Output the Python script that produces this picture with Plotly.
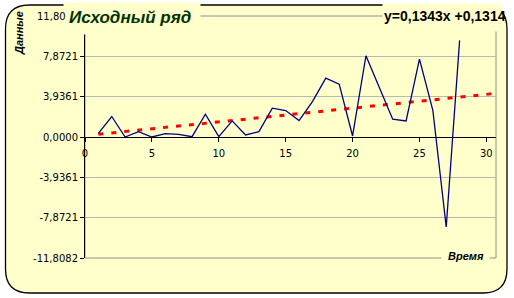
import plotly.graph_objects as go

# ---- data ----
time_idx = list(range(1, 29))
series_vals = [0.36, 2.00, 0.00, 0.52, 0.00, 0.33, 0.26, 0.03, 2.22, 0.03,
               1.57, 0.20, 0.52, 2.81, 2.58, 1.60, 3.46, 5.75, 5.16, 0.10,
               7.93, 4.77, 1.73, 1.57, 7.60, 2.60, -8.78, 9.43]
trend_slope = 0.1343
trend_intercept = 0.1314
trend_x = [1, 30.5]
y_tickvals = [11.8082, 7.8721, 3.9361, 0.0, -3.9361, -7.8721, -11.8082]
y_ticktext = ["", "7,8721", "3,9361", "0,0000", "-3,9361", "-7,8721", "-11,8082"]
top_tick_visible = "11,80"
x_tickvals = [0, 5, 10, 15, 20, 25, 30]
title_text = "Исходный ряд"
eq_text = "y=0,1343x +0,1314"
x_title = "Время"
y_title = "Данные"

# ---- layout geometry (pixels) ----
W, H = 514, 298
ML, MR, MT, MB = 85, 18, 16, 40
PW, PH = W - ML - MR, H - MT - MB
CARD = "#FFFFCC"


def px(x):
    return (x - ML) / PW


def py(y):
    return (H - MB - y) / PH


trend_y = [trend_slope * x + trend_intercept for x in trend_x]

fig = go.Figure()
fig.add_trace(go.Scatter(x=trend_x, y=trend_y, mode="lines",
                         line=dict(color="#FF0000", width=3, dash="5px,8px"),
                         hoverinfo="skip", showlegend=False))
fig.add_trace(go.Scatter(x=time_idx, y=series_vals, mode="lines",
                         line=dict(color="#000080", width=1.3),
                         showlegend=False))

# rounded card
l, r, t, b, rad = 5.5, 507, 5, 293, 24
path = (f"M {px(l+rad)} {py(t)} L {px(r-rad)} {py(t)} Q {px(r)} {py(t)} {px(r)} {py(t+rad)} "
        f"L {px(r)} {py(b-rad)} Q {px(r)} {py(b)} {px(r-rad)} {py(b)} "
        f"L {px(l+rad)} {py(b)} Q {px(l)} {py(b)} {px(l)} {py(b-rad)} "
        f"L {px(l)} {py(t+rad)} Q {px(l)} {py(t)} {px(l+rad)} {py(t)} Z")
shapes = [
    dict(type="path", path=path, xref="paper", yref="paper", fillcolor=CARD,
         line=dict(color="black", width=1.3), layer="below"),
    dict(type="rect", xref="paper", yref="paper", x0=0, x1=1, y0=0, y1=1,
         line=dict(color="#909090", width=1), layer="below"),
]

annotations = [
    # cover boxes
    dict(xref="paper", yref="paper", x=px(63), y=py(2), xanchor="left", yanchor="top",
         text=" ", showarrow=False, bgcolor=CARD, width=136, height=31, borderpad=0),
    dict(xref="paper", yref="paper", x=px(382), y=py(3), xanchor="left", yanchor="top",
         text=" ", showarrow=False, bgcolor=CARD, width=118, height=27, borderpad=0),
    dict(xref="paper", yref="paper", x=px(441), y=py(249), xanchor="left", yanchor="top",
         text=" ", showarrow=False, bgcolor=CARD, width=47, height=14, borderpad=0),
    # partially visible top tick label
    dict(xref="paper", yref="paper", x=px(35), y=py(16), xanchor="left", yanchor="middle",
         text=top_tick_visible, showarrow=False,
         font=dict(family="DejaVu Sans", size=10, color="black")),
    # texts
    dict(xref="paper", yref="paper", x=px(67), y=py(18), xanchor="left", yanchor="middle",
         text=f"<b><i>{title_text}</i></b>", showarrow=False,
         font=dict(family="Liberation Sans", size=17, color="#003300")),
    dict(xref="paper", yref="paper", x=px(382), y=py(16), xanchor="left", yanchor="middle",
         text=f"<b>{eq_text}</b>", showarrow=False,
         font=dict(family="Liberation Sans", size=14, color="black")),
    dict(xref="paper", yref="paper", x=px(466), y=py(256), xanchor="center", yanchor="middle",
         text=f"<b><i>{x_title}</i></b>", showarrow=False,
         font=dict(family="Liberation Sans", size=11, color="black")),
    dict(xref="paper", yref="paper", x=px(19), y=py(33), xanchor="center", yanchor="middle",
         text=f"<b><i>{y_title}</i></b>", showarrow=False, textangle=-90,
         font=dict(family="Liberation Sans", size=11, color="black")),
]

fig.update_layout(
    width=W, height=H,
    margin=dict(l=ML, r=MR, t=MT, b=MB, pad=0),
    paper_bgcolor="white", plot_bgcolor="rgba(0,0,0,0)",
    font=dict(family="DejaVu Sans", size=10, color="black"),
    shapes=shapes, annotations=annotations,
    xaxis=dict(range=[0, 30.72], tickvals=x_tickvals, ticks="outside", ticklen=4,
               tickcolor="black", showline=True, linecolor="black", linewidth=1,
               showgrid=False, zeroline=False, anchor="free", position=0.5,
               ticklabelstandoff=3,
               tickfont=dict(family="DejaVu Sans", size=10)),
    yaxis=dict(range=[-11.8082, 11.8082], tickvals=y_tickvals, ticktext=y_ticktext,
               ticks="outside", ticklen=4, tickcolor="black", showline=True,
               linecolor="black", linewidth=1, showgrid=True, gridcolor="#B8B8B8",
               gridwidth=1, zeroline=False,
               tickfont=dict(family="DejaVu Sans", size=10)),
)

fig.write_html("out.html")
